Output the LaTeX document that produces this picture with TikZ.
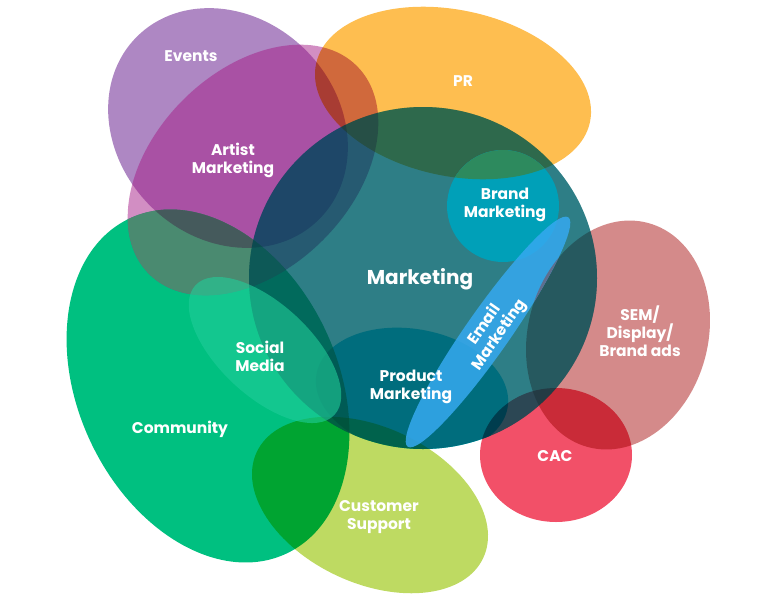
\documentclass[tikz,border=0pt]{standalone}
\usepackage{fontspec}
\usepackage{xcolor}
\usepackage{tikz}
\newfontfamily\vennfont{Poppins}

\definecolor{evcol}{HTML}{AE87C3}
\definecolor{artcol}{HTML}{A51D87}
\definecolor{artcomm}{HTML}{4A8A70}
\definecolor{artcommev}{HTML}{455A5C}
\definecolor{prcol}{HTML}{FEBE50}
\definecolor{mktcol}{HTML}{5CA3A8}
\definecolor{mkttop}{HTML}{025B65}
\definecolor{brandcol}{HTML}{00A0B8}
\definecolor{brandpr}{HTML}{2D8A5E}
\definecolor{commcol}{HTML}{00C080}
\definecolor{supcol}{HTML}{BEDA62}
\definecolor{prodcol}{HTML}{00DDEE}
\definecolor{emailcol}{HTML}{36A9F0}
\definecolor{emailsem}{HTML}{5F6E8E}
\definecolor{semcol}{HTML}{D48A8A}
\definecolor{caccol}{HTML}{F25068}
\definecolor{socialcol}{HTML}{21CD99}

\begin{document}
\begin{tikzpicture}[x=1pt,y=-1pt,
  lbl/.style={text=white,font=\vennfont\bfseries\fontsize{15.5}{18}\selectfont,align=center,inner sep=0pt},
  mul/.style={blend mode=multiply}]
\useasboundingbox (0,0) rectangle (774,603);
\fill[evcol,mul,rotate around={-45:(228,128)}] (228,128) ellipse [x radius=129,y radius=110];
\fill[commcol,mul,rotate around={25:(208,386)}] (208,386) ellipse [x radius=130,y radius=185];
\fill[artcol,fill opacity=.5,rotate around={45:(253,170)}] (253,170) ellipse [x radius=147,y radius=99];
\begin{scope}
\clip[rotate around={45:(253,170)}] (253,170) ellipse [x radius=147,y radius=99];
\clip[rotate around={25:(208,386)}] (208,386) ellipse [x radius=130,y radius=185];
\fill[artcomm] (0,0) rectangle (774,603);
\clip[rotate around={-45:(228,128)}] (228,128) ellipse [x radius=129,y radius=110];
\fill[artcommev] (0,0) rectangle (774,603);
\end{scope}
\fill[prcol,mul,rotate around={-12:(453,93)}] (453,93) ellipse [x radius=140,y radius=83];
\fill[supcol,mul,rotate around={-25:(370,505)}] (370,505) ellipse [x radius=125,y radius=78];
\fill[semcol,mul,rotate around={-15:(618,335)}] (618,335) ellipse [x radius=90,y radius=116];
\fill[caccol,mul] (556,455) ellipse [x radius=76,y radius=67];
% marketing
\fill[mktcol,mul] (423,278) ellipse [x radius=174,y radius=171];
\fill[mkttop,fill opacity=.5] (423,278) ellipse [x radius=174,y radius=171];
\begin{scope}
\clip (423,278) ellipse [x radius=174,y radius=171];
\fill[prodcol,mul,rotate around={-10:(412,391)}] (412,391) ellipse [x radius=97,y radius=62];
\end{scope}
\fill[brandcol] (503,206) circle [radius=56];
\begin{scope}
\clip[rotate around={-12:(453,93)}] (453,93) ellipse [x radius=140,y radius=83];
\fill[brandpr] (503,206) circle [radius=56];
\end{scope}
\fill[emailcol,fill opacity=.85,rotate around={55:(488,332)}] (488,332) ellipse [x radius=140,y radius=22];
\begin{scope}
\clip[rotate around={55:(488,332)}] (488,332) ellipse [x radius=140,y radius=22];
\clip (423,278) ellipse [x radius=174,y radius=171];
\fill[emailsem,rotate around={-15:(618,335)}] (618,335) ellipse [x radius=90,y radius=116];
\end{scope}
\fill[socialcol,fill opacity=.6,rotate around={-43:(265,350)}] (265,350) ellipse [x radius=95,y radius=46];
% labels
\node[lbl] (events) at (191,56) {Events};
\node[lbl] (pr) at (463,81) {PR};
\node[lbl] (artist) at (233,160) {Artist\\Marketing};
\node[lbl] (brand) at (505,205) {Brand\\Marketing};
\node[lbl,font=\vennfont\bfseries\fontsize{20}{24}\selectfont] (mkt) at (420,279) {Marketing};
\node[lbl,rotate=55] (email) at (492,330) {Email\\Marketing};
\node[lbl] (sem) at (640,331) {SEM/\\Display/\\Brand ads};
\node[lbl] (social) at (260,356) {Social\\Media};
\node[lbl] (product) at (411,387) {Product\\Marketing};
\node[lbl] (community) at (180,429) {Community};
\node[lbl] (cac) at (555,456) {CAC};
\node[lbl] (support) at (379,517) {Customer\\Support};
\end{tikzpicture}
\end{document}
